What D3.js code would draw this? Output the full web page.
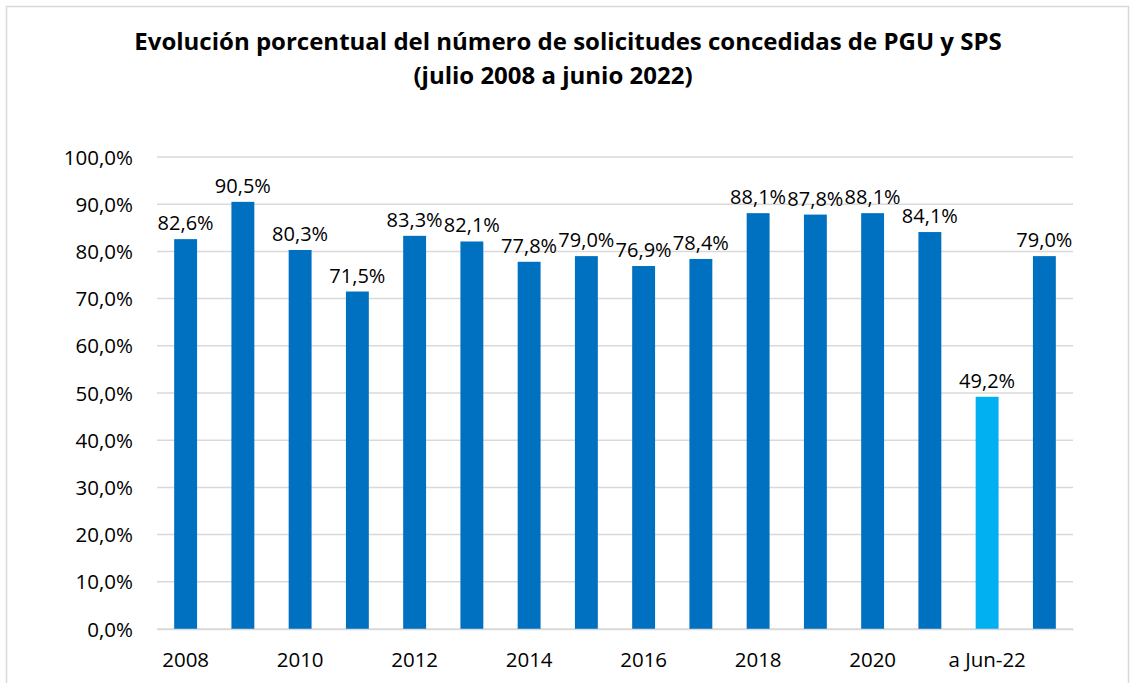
<!DOCTYPE html>
<html>
<head>
<meta charset="utf-8">
<script src="https://cdn.jsdelivr.net/npm/d3@7"></script>
<style>
  body { margin: 0; background: #fff; }
  text { font-family: "Open Sans", "Liberation Sans", sans-serif; fill: #000; }
</style>
</head>
<body>
<div id="chart"></div>
<script>
// data
var categories = ["2008", "2009", "2010", "2011", "2012", "2013", "2014", "2015",
  "2016", "2017", "2018", "2019", "2020", "2021", "a Jun-22", "Total"];
var values = [82.6, 90.5, 80.3, 71.5, 83.3, 82.1, 77.8, 79.0,
  76.9, 78.4, 88.1, 87.8, 88.1, 84.1, 49.2, 79.0];
var highlight = ["a Jun-22"];
var yTicks = [0, 10, 20, 30, 40, 50, 60, 70, 80, 90, 100];
var tickLabels = categories.filter(function (d, i) { return i % 2 === 0; });

var W = 1133, H = 683;
var margin = { top: 157, right: 60, bottom: 54, left: 157 },
  width = 1073 - margin.left,
  height = 629 - margin.top;

var svg = d3.select("#chart")
  .append("svg")
  .attr("width", W)
  .attr("height", H);

// chart border
svg.append("rect")
  .attr("x", 6.5)
  .attr("y", 6.5)
  .attr("width", 1122)
  .attr("height", 700)
  .attr("fill", "none")
  .attr("stroke", "#d9d9d9")
  .attr("stroke-width", 1.5);

// title
svg.append("text")
  .attr("x", 568)
  .attr("y", 50)
  .attr("text-anchor", "middle")
  .style("font-size", "24px")
  .style("font-weight", "bold")
  .text("Evolución porcentual del número de solicitudes concedidas de PGU y SPS");

svg.append("text")
  .attr("x", 553)
  .attr("y", 84)
  .attr("text-anchor", "middle")
  .style("font-size", "24px")
  .style("font-weight", "bold")
  .text("(julio 2008 a junio 2022)");

var g = svg.append("g")
  .attr("transform", "translate(" + margin.left + "," + margin.top + ")");

var x = d3.scaleBand()
  .domain(categories)
  .range([0, width])
  .paddingInner(0.6)
  .paddingOuter(0.3);

var y = d3.scaleLinear()
  .domain([0, 100])
  .range([height, 0]);

var fmt = function (v) { return v.toFixed(1).replace(".", ",") + "%"; };

// gridlines
g.selectAll(".grid")
  .data(yTicks)
  .enter()
  .append("line")
  .attr("class", "grid")
  .attr("x1", 0)
  .attr("x2", width)
  .attr("y1", function (d) { return y(d); })
  .attr("y2", function (d) { return y(d); })
  .attr("stroke", "#d9d9d9")
  .attr("stroke-width", 1.5);

// y axis
var yAxis = g.append("g")
  .attr("transform", "translate(-24,0)")
  .call(d3.axisLeft(y).tickValues(yTicks).tickSize(0).tickFormat(fmt));
yAxis.select(".domain").remove();
yAxis.selectAll("text")
  .style("font-size", "20.5px")
  .attr("x", 0)
  .attr("dy", "0.35em");

// bars
g.selectAll(".bar")
  .data(values)
  .enter()
  .append("rect")
  .attr("class", "bar")
  .attr("x", function (d, i) { return x(categories[i]); })
  .attr("y", function (d) { return y(d); })
  .attr("width", x.bandwidth())
  .attr("height", function (d) { return height - y(d); })
  .attr("fill", function (d, i) {
    return highlight.indexOf(categories[i]) >= 0 ? "#00b0f0" : "#0070c0";
  });

// value labels
g.selectAll(".label")
  .data(values)
  .enter()
  .append("text")
  .attr("class", "label")
  .attr("x", function (d, i) { return x(categories[i]) + x.bandwidth() / 2; })
  .attr("y", function (d) { return y(d) - 9; })
  .attr("text-anchor", "middle")
  .style("font-size", "20px")
  .text(fmt);

// x axis
var xAxis = g.append("g")
  .attr("transform", "translate(0," + height + ")")
  .call(d3.axisBottom(x).tickValues(tickLabels).tickSize(0));
xAxis.select(".domain")
  .attr("stroke", "#d9d9d9")
  .attr("stroke-width", 1.5);
xAxis.selectAll("text")
  .style("font-size", "20.5px")
  .attr("y", 38)
  .attr("dy", 0);
</script>
</body>
</html>
